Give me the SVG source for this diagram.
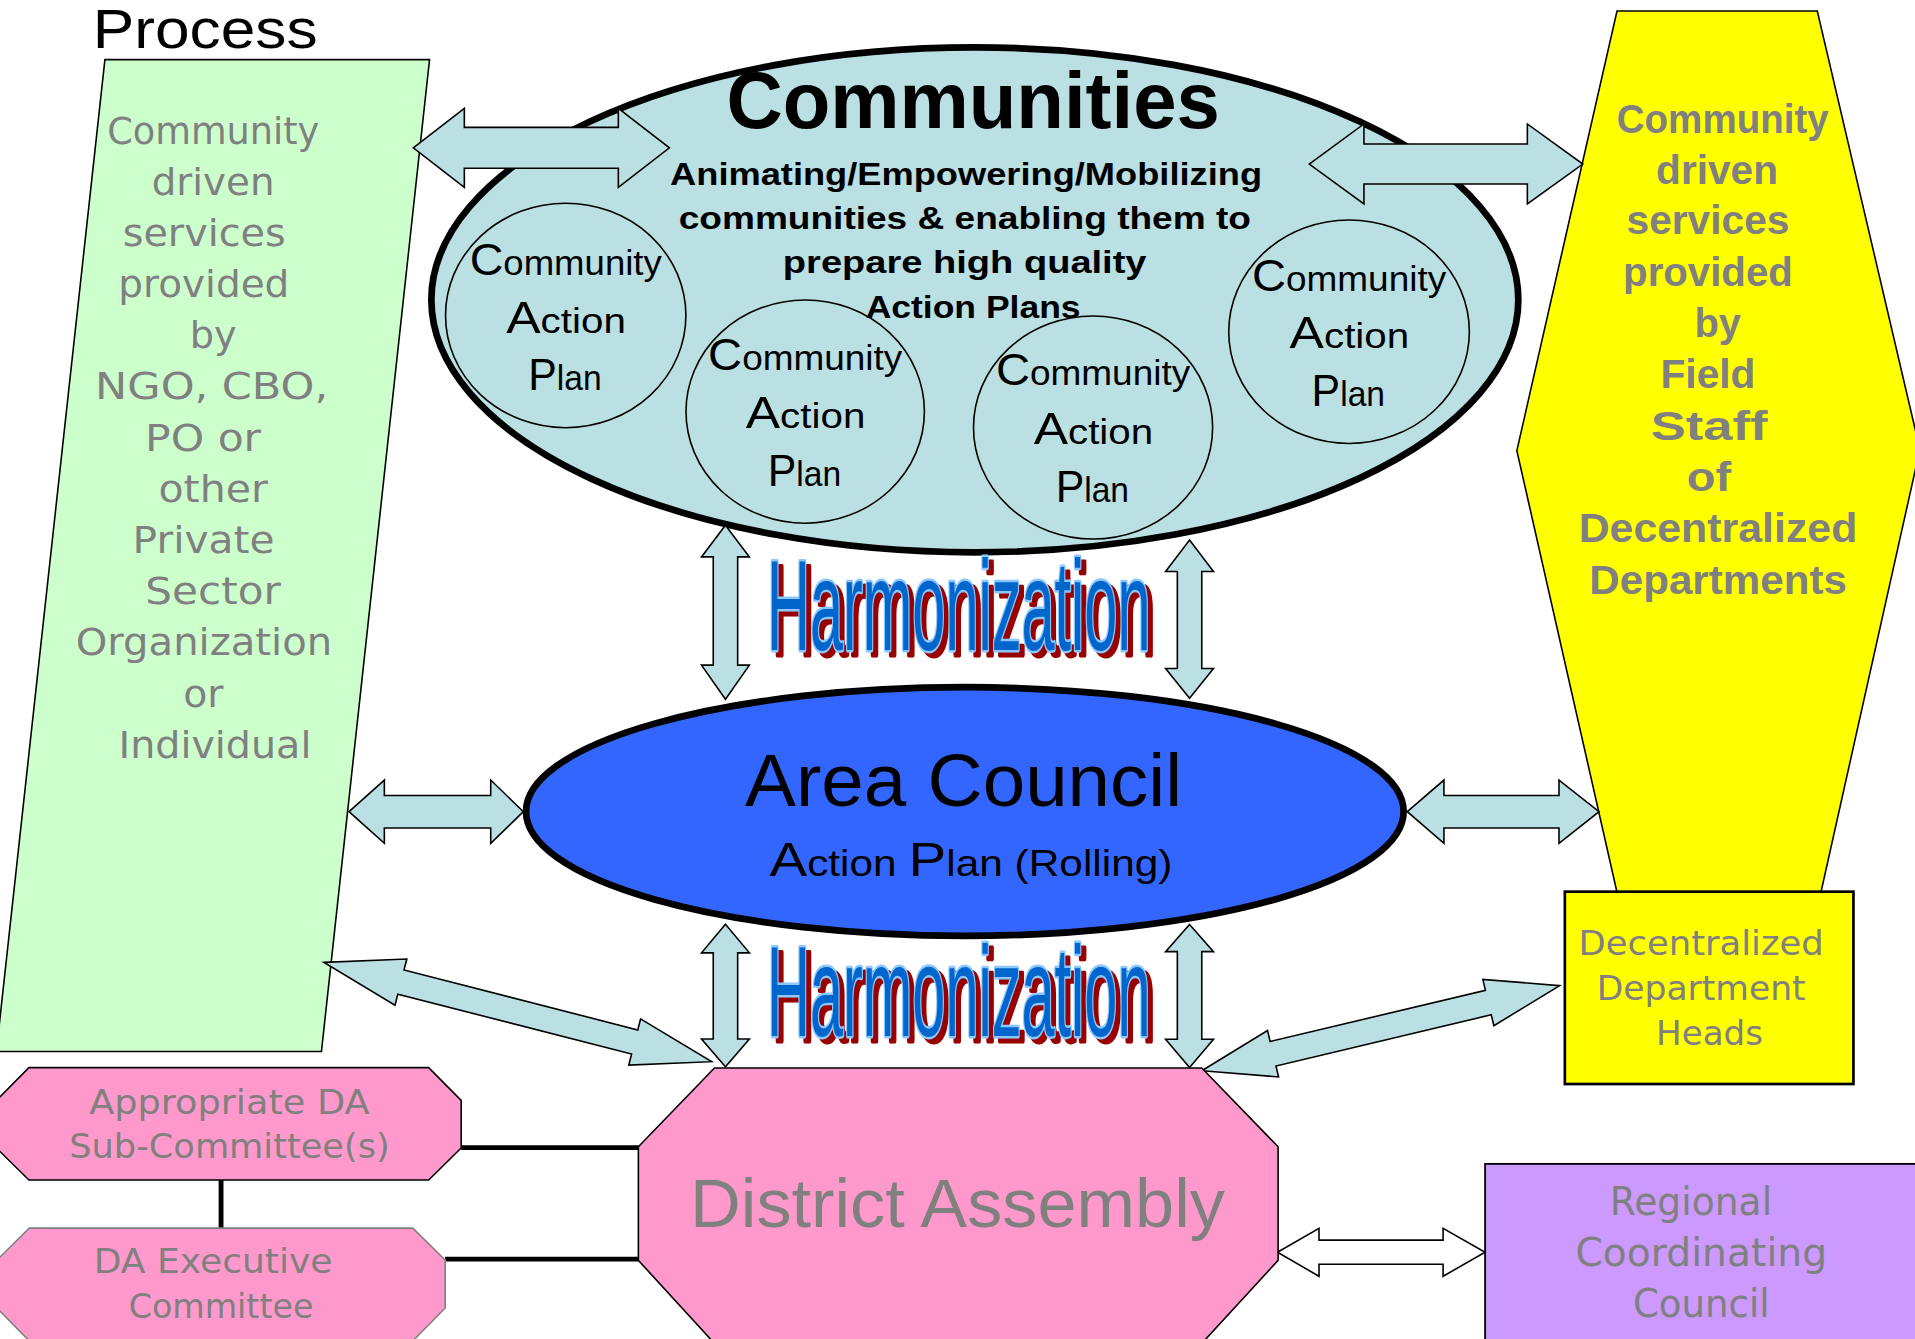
<svg xmlns="http://www.w3.org/2000/svg" width="1915" height="1339" viewBox="0 0 1915 1339">
<defs>
<style>
.ln{stroke:#000;stroke-width:1.3;stroke-linejoin:miter}
.arr{fill:#bbe0e3;stroke:#000;stroke-width:1.3;stroke-linejoin:miter}
.gt{font-family:"DejaVu Sans","Liberation Sans",sans-serif;fill:#808080;text-anchor:middle}
.gb{font-family:"Liberation Sans",Arial,sans-serif;font-weight:bold;fill:#808080;text-anchor:middle;font-size:33px}
.bk{font-family:"Liberation Sans",Arial,sans-serif;fill:#000;text-anchor:middle}
.cap{font-family:"Liberation Sans",Arial,sans-serif;fill:#000;text-anchor:middle;font-size:29px}
.big{font-size:37px}
.harm{font-family:"Liberation Sans",Arial,sans-serif;font-size:105px}
.hfg{fill:#0066cc;stroke:#8cc8ff;stroke-width:4;stroke-linejoin:round;paint-order:stroke;filter:url(#wshadow)}
.thick{stroke:#000;stroke-width:4;fill:none}
</style>
<filter id="wshadow" x="-5%" y="-25%" width="115%" height="160%" color-interpolation-filters="sRGB">
<feOffset in="SourceAlpha" dx="4" dy="4.5" result="off"/>
<feFlood flood-color="#990000" result="red"/>
<feComposite in="red" in2="off" operator="in" result="shadow"/>
<feMerge><feMergeNode in="shadow"/><feMergeNode in="SourceGraphic"/></feMerge>
</filter>
</defs>
<rect x="0" y="0" width="1915" height="1339" fill="#fff"/>
<g transform="scale(1.2213)">

<g id="ngo-box">
<polygon class="ln" fill="#ccffcc" points="85.9,48.8 351.7,48.8 263.2,861 -3,861"/>
<g class="gt" font-size="31">
<text x="174.6" y="117.8" textLength="173.7" lengthAdjust="spacingAndGlyphs">Community</text>
<text x="174.5" y="159.5" textLength="100.5" lengthAdjust="spacingAndGlyphs">driven</text>
<text x="167.2" y="201.4" textLength="133.4" lengthAdjust="spacingAndGlyphs">services</text>
<text x="166.9" y="243.3" textLength="140" lengthAdjust="spacingAndGlyphs">provided</text>
<text x="174.5" y="285.2" textLength="38.4" lengthAdjust="spacingAndGlyphs">by</text>
<text x="173.3" y="327" textLength="190.8" lengthAdjust="spacingAndGlyphs">NGO, CBO,</text>
<text x="166.3" y="369" textLength="95" lengthAdjust="spacingAndGlyphs">PO or</text>
<text x="174.5" y="410.9" textLength="89.5" lengthAdjust="spacingAndGlyphs">other</text>
<text x="166.7" y="452.8" textLength="116.2" lengthAdjust="spacingAndGlyphs">Private</text>
<text x="174.5" y="494.7" textLength="111" lengthAdjust="spacingAndGlyphs">Sector</text>
<text x="167" y="536.6" textLength="210" lengthAdjust="spacingAndGlyphs">Organization</text>
<text x="166.5" y="578.5" textLength="33" lengthAdjust="spacingAndGlyphs">or</text>
<text x="176" y="620.4" textLength="158" lengthAdjust="spacingAndGlyphs">Individual</text>
</g>
</g>

<g id="field-staff">
<polygon class="ln" fill="#ffff00" points="1324,9 1488,9 1572,368 1490,735 1325,735 1242,369"/>
<text class="gb" x="1410.6" y="108.9" textLength="173.7" lengthAdjust="spacingAndGlyphs">Community</text>
<text class="gb" x="1405.9" y="150.6" textLength="99.8" lengthAdjust="spacingAndGlyphs">driven</text>
<text class="gb" x="1398.5" y="191.9" textLength="133.3" lengthAdjust="spacingAndGlyphs">services</text>
<text class="gb" x="1398.5" y="234" textLength="139" lengthAdjust="spacingAndGlyphs">provided</text>
<text class="gb" x="1406.5" y="276" textLength="38.2" lengthAdjust="spacingAndGlyphs">by</text>
<text class="gb" x="1398.5" y="318" textLength="77.8" lengthAdjust="spacingAndGlyphs">Field</text>
<text class="gb" x="1399.4" y="360" textLength="95.5" lengthAdjust="spacingAndGlyphs">Staff</text>
<text class="gb" x="1399.4" y="402" textLength="36.4" lengthAdjust="spacingAndGlyphs">of</text>
<text class="gb" x="1406.7" y="444.1" textLength="228.2" lengthAdjust="spacingAndGlyphs">Decentralized</text>
<text class="gb" x="1406.8" y="486.2" textLength="211" lengthAdjust="spacingAndGlyphs">Departments</text>
</g>

<g id="dept-heads">
<rect x="1281.3" y="730.1" width="236.3" height="157.5" fill="#ffff00" stroke="#000" stroke-width="2.2"/>
<g class="gt" font-size="28">
<text x="1392.9" y="782" textLength="200.8" lengthAdjust="spacingAndGlyphs">Decentralized</text>
<text x="1392.9" y="818.8" textLength="171" lengthAdjust="spacingAndGlyphs">Department</text>
<text x="1399.8" y="855.6" textLength="87.6" lengthAdjust="spacingAndGlyphs">Heads</text>
</g>
</g>

<g id="regional-council">
<rect x="1216" y="953" width="360" height="150" fill="#cc99ff" stroke="#000" stroke-width="1.5"/>
<g class="gt" font-size="31.5">
<text x="1384.5" y="995" textLength="133" lengthAdjust="spacingAndGlyphs">Regional</text>
<text x="1393" y="1037" textLength="206" lengthAdjust="spacingAndGlyphs">Coordinating</text>
<text x="1393" y="1078" textLength="112" lengthAdjust="spacingAndGlyphs">Council</text>
</g>
</g>

<g id="communities">
<ellipse cx="798.2" cy="245.5" rx="445" ry="206.7" fill="#bbe0e3" stroke="#000" stroke-width="5.5"/>
<ellipse cx="463.2" cy="258.3" rx="98.4" ry="91.9" fill="none" stroke="#000" stroke-width="1.3"/>
<ellipse cx="659.3" cy="337" rx="97.6" ry="91.4" fill="none" stroke="#000" stroke-width="1.3"/>
<ellipse cx="895" cy="350" rx="97.9" ry="91.3" fill="none" stroke="#000" stroke-width="1.3"/>
<ellipse cx="1104.6" cy="271.6" rx="98.5" ry="91.5" fill="none" stroke="#000" stroke-width="1.3"/>
<text class="bk" x="796.8" y="105" font-size="66" font-weight="bold" textLength="404" lengthAdjust="spacingAndGlyphs">Communities</text>
<g class="bk" font-size="26" font-weight="bold">
<text x="791" y="151.5" textLength="484.7" lengthAdjust="spacingAndGlyphs">Animating/Empowering/Mobilizing</text>
<text x="790" y="187.5" textLength="468.5" lengthAdjust="spacingAndGlyphs">communities &amp; enabling them to</text>
<text x="789.9" y="223.6" textLength="297.8" lengthAdjust="spacingAndGlyphs">prepare high quality</text>
<text x="796.8" y="260" textLength="176" lengthAdjust="spacingAndGlyphs">Action Plans</text>
</g>
</g>

<g id="cap-1">
<text class="cap" x="463.2" y="225.2" textLength="157.3" lengthAdjust="spacingAndGlyphs"><tspan class="big">C</tspan>ommunity</text>
<text class="cap" x="463.5" y="272.4" textLength="97.9" lengthAdjust="spacingAndGlyphs"><tspan class="big">A</tspan>ction</text>
<text class="cap" x="462.6" y="319.3" textLength="60.1" lengthAdjust="spacingAndGlyphs"><tspan class="big">P</tspan>lan</text>
</g>
<g id="cap-2">
<text class="cap" x="659.3" y="303" textLength="159" lengthAdjust="spacingAndGlyphs"><tspan class="big">C</tspan>ommunity</text>
<text class="cap" x="659.6" y="350.7" textLength="97.9" lengthAdjust="spacingAndGlyphs"><tspan class="big">A</tspan>ction</text>
<text class="cap" x="658.7" y="398" textLength="60.1" lengthAdjust="spacingAndGlyphs"><tspan class="big">P</tspan>lan</text>
</g>
<g id="cap-3">
<text class="cap" x="895" y="315.2" textLength="159" lengthAdjust="spacingAndGlyphs"><tspan class="big">C</tspan>ommunity</text>
<text class="cap" x="895.3" y="363.5" textLength="97.9" lengthAdjust="spacingAndGlyphs"><tspan class="big">A</tspan>ction</text>
<text class="cap" x="894.4" y="410.8" textLength="60.1" lengthAdjust="spacingAndGlyphs"><tspan class="big">P</tspan>lan</text>
</g>
<g id="cap-4">
<text class="cap" x="1104.6" y="238" textLength="159" lengthAdjust="spacingAndGlyphs"><tspan class="big">C</tspan>ommunity</text>
<text class="cap" x="1104.9" y="285.2" textLength="97.9" lengthAdjust="spacingAndGlyphs"><tspan class="big">A</tspan>ction</text>
<text class="cap" x="1104" y="332.4" textLength="60.1" lengthAdjust="spacingAndGlyphs"><tspan class="big">P</tspan>lan</text>
</g>

<g id="area-council">
<ellipse cx="790" cy="664.5" rx="359.3" ry="101.8" fill="#3366ff" stroke="#000" stroke-width="5.5"/>
<text class="bk" x="789" y="660" font-size="60" textLength="358" lengthAdjust="spacingAndGlyphs">Area Council</text>
<text class="bk" x="795" y="717" font-size="30" textLength="330" lengthAdjust="spacingAndGlyphs"><tspan font-size="40">A</tspan>ction <tspan font-size="40">P</tspan>lan (Rolling)</text>
</g>

<g id="connectors">
<line class="thick" x1="377.6" y1="939.7" x2="523" y2="939.7"/>
<line class="thick" x1="181" y1="966" x2="181" y2="1005.6"/>
<line class="thick" x1="364.5" y1="1031" x2="523" y2="1031"/>
<polygon class="arr" points="338.4,121 380.2,88.7 380.2,104.3 506.3,104.3 506.3,88.7 548.1,121 506.3,153.4 506.3,137.8 380.2,137.8 380.2,153.4"/>
<polygon class="arr" points="1072,134.3 1116.8,101.5 1116.8,117.9 1250.6,117.9 1250.6,101.5 1296,134.3 1250.6,167 1250.6,150.6 1116.8,150.6 1116.8,167"/>
<polygon class="arr" points="285.8,664.6 314.7,638.7 314.7,651.3 401.8,651.3 401.8,638.7 428.5,664.6 401.8,690.5 401.8,677.9 314.7,677.9 314.7,690.5"/>
<polygon class="arr" points="1152.3,664.6 1182.3,638.7 1182.3,651.3 1276.5,651.3 1276.5,638.7 1309.3,664.6 1276.5,690.5 1276.5,677.9 1182.3,677.9 1182.3,690.5"/>
<polygon class="arr" points="594,430 613.6,456 604,456 604,544.6 613.6,544.6 594,572.6 574.4,544.6 584,544.6 584,456 574.4,456"/>
<polygon class="arr" points="974,442.2 993.6,467.9 984,467.9 984,547.4 993.6,547.4 974,571.7 954.4,547.4 964,547.4 964,467.9 954.4,467.9"/>
<polygon class="arr" points="594,756.8 613.6,780.2 604,780.2 604,850.7 613.6,850.7 594,873.4 574.4,850.7 584,850.7 584,780.2 574.4,780.2"/>
<polygon class="arr" points="974,757 993.6,779.2 984,779.2 984,851 993.6,851 974,874 954.4,851 964,851 964,779.2 954.4,779.2"/>
<polygon class="arr" transform="translate(265.3,788) rotate(14.37)" points="0,0 65,-19.5 65,-10.2 262.6,-10.2 262.6,-19.5 327.6,0 262.6,19.5 262.6,10.2 65,10.2 65,19.5"/>
<polygon class="arr" transform="translate(984,876.7) rotate(-13.38)" points="0,0 60,-19.5 60,-10.3 241.2,-10.3 241.2,-19.5 301.2,0 241.2,19.5 241.2,10.3 60,10.3 60,19.5"/>
<polygon class="arr" style="fill:#fff" points="1046,1025.3 1080,1005.7 1080,1015.4 1181.6,1015.4 1181.6,1005.7 1216,1025.3 1181.6,1045 1181.6,1035.2 1080,1035.2 1080,1045"/>
</g>

<g id="district-assembly">
<polygon class="ln" fill="#ff99cc" points="585,874.5 984,874.5 1046.5,939 1046.5,1032 984,1100 585,1100 522.7,1032 522.7,939"/>
<text x="784" y="1005" font-family="Liberation Sans, Arial, sans-serif" font-size="56" fill="#808080" text-anchor="middle" textLength="438" lengthAdjust="spacingAndGlyphs">District Assembly</text>
</g>

<g id="sub-committee">
<polygon class="ln" fill="#ff99cc" points="23.7,874.2 351,874.2 377.6,901 377.6,940 351,966.2 23.7,966.2 -2.9,940 -2.9,901"/>
<g class="gt" font-size="28">
<text x="187.9" y="912.1" textLength="229.6" lengthAdjust="spacingAndGlyphs">Appropriate DA</text>
<text x="187.9" y="948.5" textLength="262.4" lengthAdjust="spacingAndGlyphs">Sub-Committee(s)</text>
</g>
</g>

<g id="executive-committee">
<polygon fill="#ff99cc" stroke="#808080" stroke-width="1.3" points="24,1005.6 338,1005.6 364.5,1031.7 364.5,1071 338,1098 24,1098 -2.5,1071 -2.5,1031.7"/>
<g class="gt" font-size="28">
<text x="174.5" y="1042.6" textLength="195.5" lengthAdjust="spacingAndGlyphs">DA Executive</text>
<text x="181" y="1079.5" textLength="151.3" lengthAdjust="spacingAndGlyphs">Committee</text>
</g>
</g>

<g id="harmonization-labels" class="harm">
<text class="hfg" x="628" y="532" textLength="314" lengthAdjust="spacingAndGlyphs">Harmonization</text>
<text class="hfg" x="628" y="848" textLength="314" lengthAdjust="spacingAndGlyphs">Harmonization</text>
</g>

<g id="title">
<text x="76" y="39.5" font-family="Liberation Sans, Arial, sans-serif" font-size="46" fill="#000" textLength="184" lengthAdjust="spacingAndGlyphs">Process</text>
</g>
</g>
</svg>
